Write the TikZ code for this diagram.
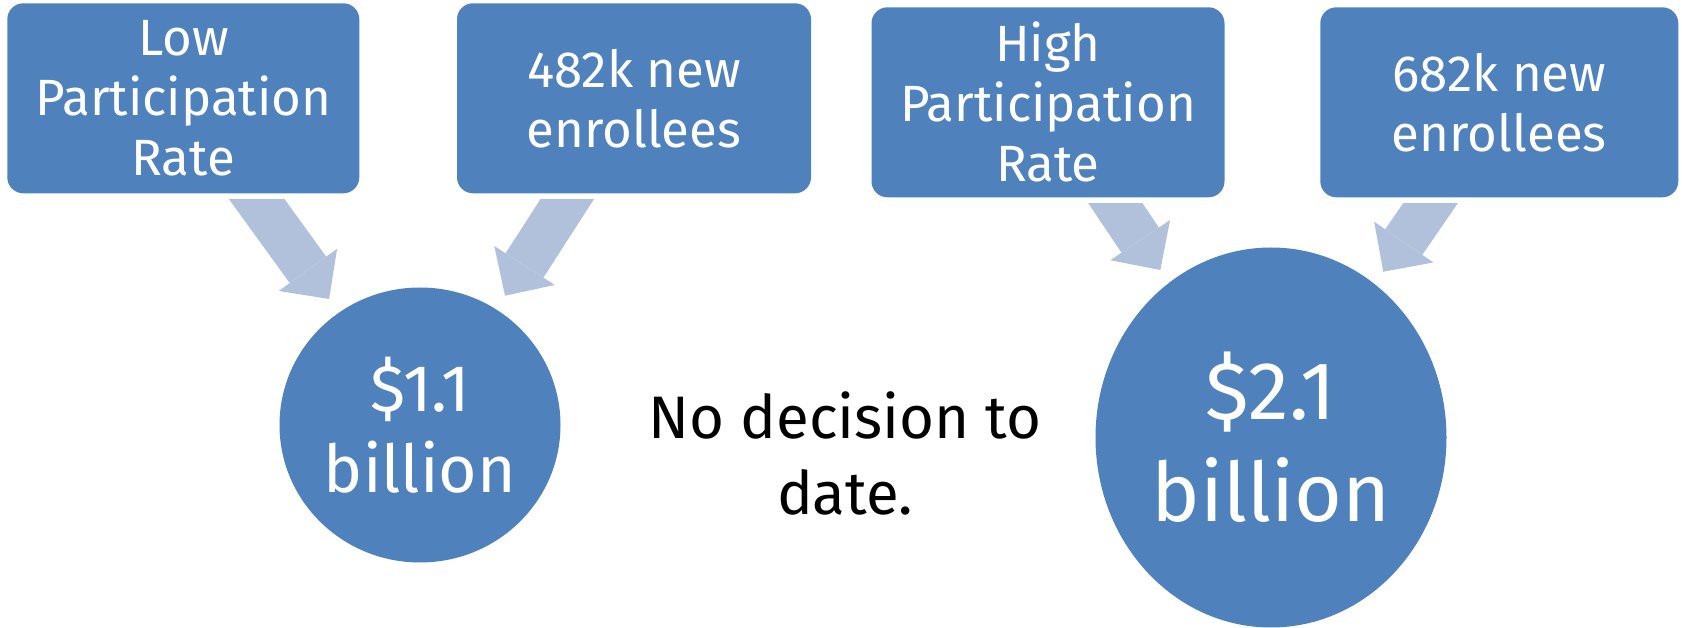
\documentclass[tikz,border=0pt]{standalone}
\usepackage{fontspec}
\setmainfont{Fira Sans}
\usetikzlibrary{arrows.meta,shapes.geometric,calc}
\definecolor{boxblue}{HTML}{4F81BD}
\definecolor{arrowblue}{HTML}{B2C1DB}

\begin{document}
\begin{tikzpicture}[x=1pt, y=-1pt,
  blk/.style={fill=boxblue, rounded corners=16pt, minimum height=190pt, align=center, text=white, inner sep=0pt, font=\fontsize{51}{60}\selectfont},
  cost/.style={ellipse, fill=boxblue, align=center, text=white, inner sep=0pt},
  flow/.style={draw=arrowblue, line width=45pt, -{Triangle[length=36pt, width=72pt, line width=0pt]}}]
\useasboundingbox (0,0) rectangle (1682,628);
% low scenario
\node[blk, minimum width=352pt] (lorate) at (183.3,98.3) {Low\\Participation\\Rate};
\node[blk, minimum width=354pt] (lonew) at (634,98.3) {482k new\\enrollees};
\node[cost, minimum width=281pt, minimum height=275pt, font=\fontsize{66}{80.7}\selectfont] (locost) at (420,425) {\$1.1\\billion};
% high scenario
\node[blk, minimum width=353pt] (hirate) at (1048,102.3) {High\\Participation\\Rate};
\node[blk, minimum width=358pt] (hinew) at (1499.3,102.3) {682k new\\enrollees};
\node[cost, minimum width=351pt, minimum height=380pt, font=\fontsize{82}{101.7}\selectfont] (hicost) at (1271,437.5) {\$2.1\\billion};
\node[font=\fontsize{60}{76.7}\selectfont, align=center] (undecided) at (845,453.5) {No decision to\\date.};

% block arrows, tails cut flat under the boxes
\begin{scope}
  \clip (0,199.3) rectangle (860,628);
  \draw[flow] ($(lorate.south)+(56.1,-18.3)$) -- ($(locost)+(-90.9,-126)$);
  \draw[flow] ($(lonew.south)+(-50.8,-19.2)$) -- ($(locost)+(85,-129.3)$);
\end{scope}
\begin{scope}
  \clip (860,203.3) rectangle (1682,628);
  \draw[flow] ($(hirate.south)+(50.8,-18.9)$) -- ($(hicost)+(-110.7,-167.5)$);
  \draw[flow] ($(hinew.south)+(-52,-18.7)$) -- ($(hicost)+(112.3,-165.8)$);
\end{scope}
\end{tikzpicture}
\end{document}
